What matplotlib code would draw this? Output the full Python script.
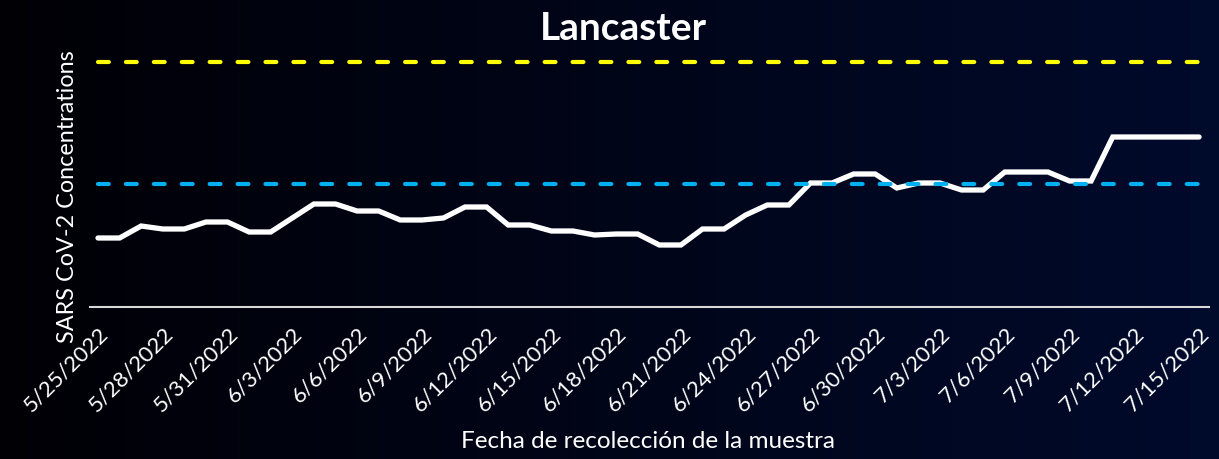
import matplotlib
matplotlib.use("Agg")
import matplotlib.pyplot as plt
import numpy as np
import pandas as pd

# daily sample dates 5/25/2022 - 7/15/2022
dates = pd.date_range("2022-05-25", "2022-07-15", freq="D")
concentration = [
    69, 69, 81, 78, 78, 85, 85, 75, 75, 89,
    103, 103, 96, 96, 87, 87, 89, 100, 100, 82,
    82, 76, 76, 72, 73, 73, 62, 62, 78, 78,
    92, 102, 102, 124, 124, 133, 133, 119, 124, 124,
    117, 117, 135, 135, 135, 126, 126, 170, 170, 170,
    170, 170,
]
high_level = 245
medium_level = 123

title = "Lancaster"
xlabel = "Fecha de recolección de la muestra"
ylabel = "SARS CoV-2 Concentrations"

plt.rcParams["font.family"] = ["Lato", "DejaVu Sans"]

fig = plt.figure(figsize=(12.19, 4.59), dpi=100)

# dark gradient background
bg = fig.add_axes([0, 0, 1, 1], zorder=-10)
grad = np.linspace(0, 1, 256).reshape(1, -1)
left = np.array([0.0, 0.0, 0.02])
right = np.array([0.0, 0.04, 0.17])
img = left + (right - left) * grad[..., None]
bg.imshow(img, aspect="auto", extent=[0, 1, 0, 1])
bg.axis("off")

ax = fig.add_axes([90 / 1219, 1 - 307 / 459, 1119 / 1219, 262 / 459])
ax.set_facecolor("none")

x = np.arange(len(dates))
ax.plot(x, concentration, color="white", lw=3.8, solid_capstyle="round",
        solid_joinstyle="miter", zorder=2)
ax.hlines(high_level, 0, 51.3, colors="#ffff00", lw=3, linestyles=(0, (2.6, 4.1)),
          capstyle="round", zorder=3)
ax.hlines(medium_level, 0, 51.3, colors="#00b0f0", lw=3, linestyles=(0, (2.6, 4.1)),
          capstyle="round", zorder=3)

ax.set_xlim(-0.37, 51.46)
ax.set_ylim(0, 262)

ticks = x[::3]
ax.set_xticks(ticks)
ax.set_xticklabels([f"{d.month}/{d.day}/{d.year}" for d in dates[::3]],
                   rotation=45, ha="right", rotation_mode="anchor",
                   color="white", fontsize=16)
ax.tick_params(axis="x", length=0, pad=12)
ax.set_yticks([])

for s in ["top", "right", "left"]:
    ax.spines[s].set_visible(False)
ax.spines["bottom"].set_color("#d9d9d9")
ax.spines["bottom"].set_linewidth(1.5)

ax.set_ylabel(ylabel, color="white", fontsize=16.8)
ax.yaxis.set_label_coords(-12 / 1119, 0.42)
fig.text(648 / 1219, 1 - 442 / 459, xlabel, color="white", fontsize=17.5,
         ha="center", va="center")
fig.text(623 / 1219, 1 - 28 / 459, title, color="white", fontsize=28,
         fontweight="bold", ha="center", va="center")

fig.savefig("out.png", dpi=100)
